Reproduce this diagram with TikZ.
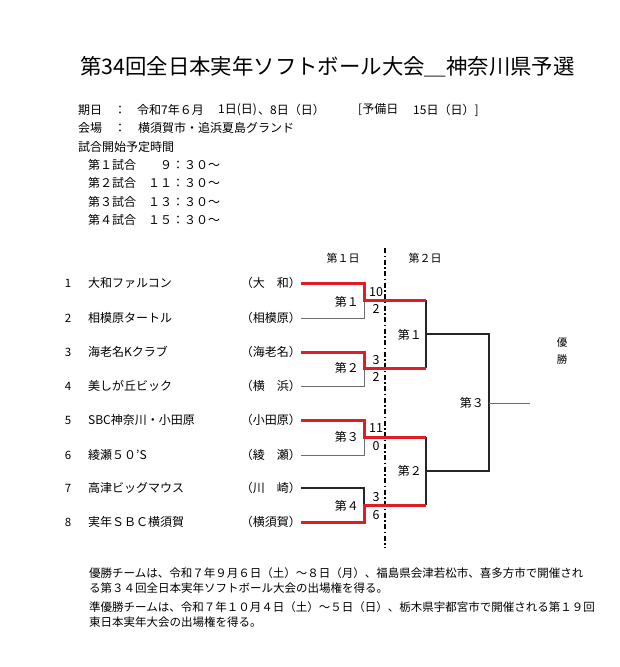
\documentclass[tikz,border=0pt]{standalone}
\usepackage{fontspec}
\setmainfont{Noto Sans CJK JP}
\usetikzlibrary{positioning}
\definecolor{winred}{RGB}{222,30,36}
\definecolor{losegray}{RGB}{110,110,110}

\begin{document}
\begin{tikzpicture}[x=1pt, y=-1pt,
    info/.style={anchor=west, inner sep=0pt, font=\fontsize{12}{14}\selectfont},
    seed/.style={inner sep=0pt, font=\fontsize{11.5}{14}\selectfont},
    team/.style={anchor=west, inner sep=0pt, font=\fontsize{12}{14}\selectfont},
    club/.style={anchor=east, inner sep=0pt, font=\fontsize{12}{14}\selectfont},
    score/.style={inner sep=0pt, font=\fontsize{12.5}{13}\selectfont},
    game/.style={anchor=east, inner sep=0pt, font=\fontsize{12}{13}\selectfont},
    daytag/.style={inner sep=0pt, font=\fontsize{11}{13}\selectfont},
    win/.style={draw=winred, line width=3pt},
    lose/.style={draw=losegray, line width=0.9pt},
    link/.style={draw=black!85, line width=1.1pt}
]
    \useasboundingbox (0,0) rectangle (620,667);

    % title and schedule
    \node[anchor=west, inner sep=0pt, font=\fontsize{21.4}{24}\selectfont] (title) at (80,67)
        {第34回全日本実年ソフトボール大会＿神奈川県予選};
    \node[info] (date) at (78,110) {期日　：};
    \node[info] (dateA) at (137,110) {令和7年６月};
    \node[info] (dateB) at (218,110) {1日(日)};
    \node[info] (dateC) at (258,110) {、8日（日）};
    \node[info] (dateD) at (358,110) {[予備日};
    \node[info] (dateE) at (413,110) {15日（日）]};
    \node[info] (venue) at (78,128) {会場　：　横須賀市・追浜夏島グランド};
    \node[info] (start) at (78,147) {試合開始予定時間};
    \node[info] (g1) at (88,165) {第１試合　　９：３０～};
    \node[info] (g2) at (88,183) {第２試合　１１：３０～};
    \node[info] (g3) at (88,202) {第３試合　１３：３０～};
    \node[info] (g4) at (88,220) {第４試合　１５：３０～};

    % day headers and divider
    \node[daytag] (day1) at (343,258) {第１日};
    \node[daytag] (day2) at (425,258) {第２日};
    \coordinate (dtop) at (385,248);
    \coordinate (dbot) at (385,548);
    \draw[line width=1.3pt, dash pattern=on 5pt off 2.5pt on 1.5pt off 2.5pt] (dtop) -- (dbot);

    % teams
    \node[seed] (n1) at (68,283) {1};
    \node[team] (t1) at (88,283) {大和ファルコン};
    \node[club] (c1) at (301,283) {（大　和）};
    \node[seed] (n2) at (68,318) {2};
    \node[team] (t2) at (88,318) {相模原タートル};
    \node[club] (c2) at (301,318) {（相模原）};
    \node[seed] (n3) at (68,352) {3};
    \node[team] (t3) at (88,352) {海老名Kクラブ};
    \node[club] (c3) at (301,352) {（海老名）};
    \node[seed] (n4) at (68,386) {4};
    \node[team] (t4) at (88,386) {美しが丘ビック};
    \node[club] (c4) at (301,386) {（横　浜）};
    \node[seed] (n5) at (68,420) {5};
    \node[team] (t5) at (88,420) {SBC神奈川・小田原};
    \node[club] (c5) at (301,420) {（小田原）};
    \node[seed] (n6) at (68,455) {6};
    \node[team] (t6) at (88,455) {綾瀬５０'S};
    \node[club] (c6) at (301,455) {（綾　瀬）};
    \node[seed] (n7) at (68,488) {7};
    \node[team] (t7) at (88,488) {高津ビッグマウス};
    \node[club] (c7) at (301,488) {（川　崎）};
    \node[seed] (n8) at (68,522) {8};
    \node[team] (t8) at (88,522) {実年ＳＢＣ横須賀};
    \node[club] (c8) at (301,522) {（横須賀）};

    % bracket joints
    \coordinate (j1) at (364,300);
    \coordinate (j2) at (364,368);
    \coordinate (j3) at (364,437);
    \coordinate (j4) at (364,505);
    \coordinate (q1) at (426,300);
    \coordinate (q2) at (426,368);
    \coordinate (q3) at (426,437);
    \coordinate (q4) at (426,505);
    \coordinate (s1) at (426,334);
    \coordinate (s2) at (426,471);
    \coordinate (u1) at (489,334);
    \coordinate (u2) at (489,471);
    \coordinate (fin) at (489,403);
    \coordinate (champ) at (530,403);

    % second day and final
    \draw[link] (q1) -- (q2);
    \draw[link] (q3) -- (q4);
    \draw[link] (s1) -- (u1) -- (u2) -- (s2);
    \draw[lose] (fin) -- (champ);

    % first day
    \draw[lose] (c2.east) -| (j1);
    \draw[lose] (c4.east) -| (j2);
    \draw[lose] (c6.east) -| (j3);
    \draw[link] (c7.east) -| (j4);
    \draw[win] (c1.east) -| (j1) -- (q1);
    \draw[win] (c3.east) -| (j2) -- (q2);
    \draw[win] (c5.east) -| (j3) -- (q3);
    \draw[win] (c8.east) -| (j4) -- (q4);

    % scores
    \node[score] (p1) at (376,292) {10};
    \node[score] (p2) at (376,309) {2};
    \node[score] (p3) at (376,360) {3};
    \node[score] (p4) at (376,377) {2};
    \node[score] (p5) at (376,428) {11};
    \node[score] (p6) at (376,446) {0};
    \node[score] (p7) at (376,497) {3};
    \node[score] (p8) at (376,515) {6};

    % game labels
    \node[game] (m1) at (359,302) {第１};
    \node[game] (m2) at (359,368) {第２};
    \node[game] (m3) at (359,437) {第３};
    \node[game] (m4) at (359,506) {第４};
    \node[game] (m5) at (422,335) {第１};
    \node[game] (m6) at (422,471) {第２};
    \node[game] (m7) at (484,403) {第３};
    \node[inner sep=0pt, align=center, font=\fontsize{10.5}{17.5}\selectfont] (winner) at (562,351) {優\\勝};

    % notes
    \node[anchor=north west, inner sep=0pt, align=left, font=\fontsize{11.5}{15.5}\selectfont] (note1) at (89,567)
        {優勝チームは、令和７年９月６日（土）～８日（月）、福島県会津若松市、喜多方市で開催され\\る第３４回全日本実年ソフトボール大会の出場権を得る。};
    \node[anchor=north west, inner sep=0pt, align=left, font=\fontsize{11.5}{15.5}\selectfont] (note2) at (89,601)
        {準優勝チームは、令和７年１０月４日（土）～５日（日）、栃木県宇都宮市で開催される第１９回\\東日本実年大会の出場権を得る。};
\end{tikzpicture}
\end{document}
